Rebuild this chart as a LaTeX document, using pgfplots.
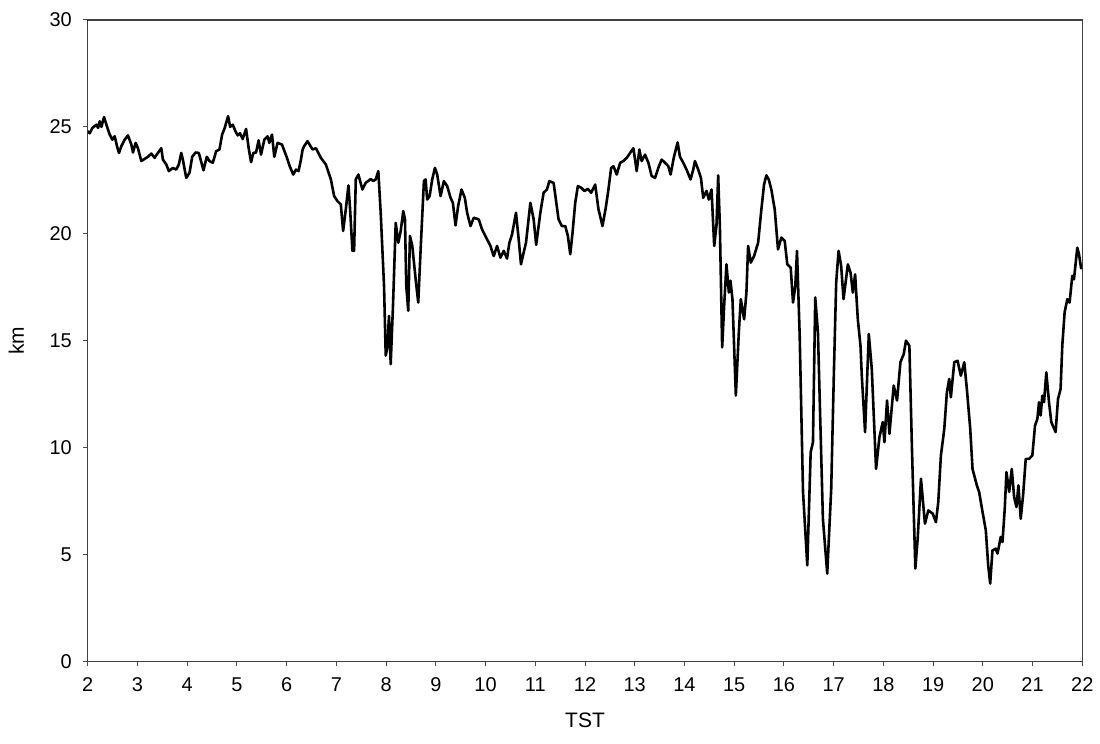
\documentclass[border=0pt]{standalone}
\usepackage{fontspec}
\setmainfont{Liberation Sans}
\usepackage{pgfplots}
\pgfplotsset{compat=1.18}
\begin{document}
\begin{tikzpicture}
\begin{axis}[
  at={(0,0)}, anchor=south west,
  scale only axis,
  width=498.5pt, height=321.5pt,
  xmin=2, xmax=22, ymin=0, ymax=30,
  xtick={2,3,...,22}, ytick={0,5,...,30},
  xtick pos=bottom, ytick pos=left,
  tick align=outside, major tick length=2.5pt,
  tick style={black!70, line width=0.5pt},
  axis line style={black!75, line width=0.6pt},
  /pgf/number format/assume math mode=true,
  tick label style={font=\fontsize{10}{12}\selectfont},
  label style={font=\fontsize{10.5}{12}\selectfont},
  xlabel={TST}, ylabel={km},
  xlabel style={yshift=-4pt},
  ylabel style={yshift=6pt},
  xticklabel style={yshift=-2pt},
  yticklabel style={xshift=-2pt},
]
\addplot[black, line width=1.3pt, line join=round] coordinates {
(2.000,24.8)(2.040,24.7)(2.094,24.95)(2.175,25.1)(2.207,24.95)(2.241,25.26)(2.275,25.0)(2.327,25.46)(2.375,25.1)(2.441,24.64)(2.495,24.4)(2.542,24.56)(2.588,24.09)(2.628,23.78)(2.676,24.1)(2.742,24.4)(2.808,24.6)(2.877,24.17)(2.909,23.8)(2.963,24.25)(3.009,24.0)(3.077,23.4)(3.143,23.5)(3.210,23.6)(3.278,23.75)(3.344,23.55)(3.410,23.78)(3.478,24.0)(3.511,23.47)(3.579,23.24)(3.631,22.93)(3.711,23.08)(3.779,23.0)(3.831,23.24)(3.880,23.78)(3.912,23.47)(3.980,22.61)(4.046,22.85)(4.100,23.6)(4.167,23.8)(4.233,23.78)(4.327,22.97)(4.393,23.6)(4.447,23.4)(4.514,23.32)(4.582,23.86)(4.648,23.94)(4.702,24.64)(4.754,24.95)(4.822,25.5)(4.863,25.0)(4.915,25.1)(4.969,24.8)(5.015,24.6)(5.063,24.7)(5.115,24.43)(5.184,24.9)(5.236,24.0)(5.284,23.35)(5.330,23.78)(5.384,23.8)(5.436,24.37)(5.484,23.7)(5.551,24.4)(5.617,24.56)(5.651,24.25)(5.705,24.64)(5.751,23.6)(5.817,24.25)(5.906,24.17)(5.998,23.6)(6.066,23.13)(6.132,22.77)(6.187,23.0)(6.239,22.93)(6.287,23.47)(6.321,23.94)(6.353,24.1)(6.419,24.33)(6.520,23.94)(6.588,24.0)(6.688,23.55)(6.788,23.24)(6.889,22.54)(6.955,21.76)(7.021,21.53)(7.089,21.37)(7.135,20.13)(7.189,21.14)(7.242,22.26)(7.276,21.14)(7.322,19.2)(7.356,19.2)(7.390,22.54)(7.442,22.77)(7.523,22.07)(7.589,22.38)(7.691,22.56)(7.737,22.46)(7.791,22.54)(7.843,22.93)(7.891,20.98)(7.958,17.56)(7.992,14.3)(8.024,14.68)(8.058,16.16)(8.092,13.9)(8.138,16.63)(8.193,20.51)(8.245,19.58)(8.293,20.13)(8.345,21.06)(8.379,20.67)(8.405,17.56)(8.445,16.4)(8.479,19.9)(8.526,19.43)(8.594,17.87)(8.646,16.78)(8.694,19.27)(8.760,22.46)(8.794,22.54)(8.826,21.6)(8.875,21.76)(8.927,22.54)(8.981,23.08)(9.027,22.77)(9.095,21.76)(9.161,22.46)(9.228,22.23)(9.296,21.68)(9.342,21.45)(9.396,20.39)(9.448,21.29)(9.516,22.07)(9.583,21.68)(9.629,20.98)(9.697,20.36)(9.763,20.75)(9.863,20.67)(9.930,20.2)(10.030,19.74)(10.098,19.43)(10.164,18.96)(10.231,19.43)(10.299,18.88)(10.365,19.2)(10.431,18.84)(10.479,19.58)(10.532,19.97)(10.612,20.98)(10.666,19.74)(10.712,18.57)(10.766,19.12)(10.813,19.58)(10.901,21.45)(10.967,20.67)(11.018,19.48)(11.101,20.98)(11.167,21.92)(11.234,22.07)(11.282,22.46)(11.368,22.38)(11.414,21.6)(11.468,20.67)(11.535,20.36)(11.603,20.36)(11.655,19.9)(11.703,19.04)(11.749,20.05)(11.803,21.45)(11.856,22.23)(11.924,22.15)(11.990,22.0)(12.056,22.1)(12.124,21.92)(12.204,22.3)(12.271,21.14)(12.351,20.36)(12.417,21.21)(12.471,22.07)(12.525,23.08)(12.572,23.16)(12.638,22.77)(12.706,23.32)(12.772,23.4)(12.839,23.55)(12.907,23.78)(12.973,24.0)(13.039,22.93)(13.093,23.94)(13.139,23.4)(13.207,23.7)(13.274,23.32)(13.340,22.7)(13.408,22.61)(13.474,23.08)(13.541,23.47)(13.609,23.32)(13.675,23.16)(13.721,22.77)(13.789,23.6)(13.862,24.27)(13.909,23.6)(13.976,23.32)(14.042,23.0)(14.122,22.54)(14.176,23.0)(14.210,23.4)(14.277,23.0)(14.331,22.61)(14.377,21.68)(14.443,22.0)(14.490,21.6)(14.544,22.07)(14.598,19.43)(14.644,20.4)(14.678,22.73)(14.712,20.36)(14.758,14.68)(14.798,16.63)(14.844,18.57)(14.893,17.25)(14.925,17.8)(14.965,16.94)(15.033,12.43)(15.093,15.39)(15.133,16.94)(15.200,16.0)(15.246,17.25)(15.280,19.43)(15.334,18.65)(15.400,18.96)(15.481,19.58)(15.547,21.14)(15.600,22.3)(15.647,22.73)(15.695,22.54)(15.747,22.07)(15.815,21.14)(15.881,19.27)(15.948,19.82)(16.016,19.66)(16.068,18.57)(16.136,18.42)(16.183,16.78)(16.229,17.56)(16.263,19.2)(16.317,15.24)(16.384,7.92)(16.470,4.49)(16.538,9.78)(16.584,10.25)(16.630,17.02)(16.684,15.39)(16.784,6.67)(16.871,4.11)(16.951,8.07)(17.005,13.52)(17.051,17.71)(17.099,19.2)(17.151,18.5)(17.199,16.94)(17.286,18.57)(17.340,18.18)(17.386,17.25)(17.432,18.1)(17.486,16.0)(17.540,14.76)(17.566,13.36)(17.632,10.72)(17.707,15.31)(17.767,13.67)(17.853,9.0)(17.921,10.49)(17.987,11.19)(18.021,10.25)(18.074,12.2)(18.122,10.64)(18.208,12.9)(18.275,12.2)(18.343,13.99)(18.409,14.37)(18.455,15.0)(18.523,14.76)(18.575,9.94)(18.643,4.34)(18.690,5.74)(18.756,8.54)(18.836,6.44)(18.904,7.06)(18.991,6.91)(19.057,6.51)(19.104,7.45)(19.157,9.63)(19.225,10.87)(19.277,12.58)(19.325,13.21)(19.357,12.35)(19.426,13.99)(19.492,14.06)(19.558,13.36)(19.627,13.99)(19.679,12.74)(19.747,10.87)(19.793,9.0)(19.880,8.23)(19.926,7.92)(19.994,6.99)(20.060,6.13)(20.108,4.49)(20.148,3.64)(20.194,5.19)(20.261,5.27)(20.295,5.04)(20.361,5.82)(20.395,5.58)(20.441,7.14)(20.475,8.85)(20.530,7.92)(20.582,9.0)(20.630,7.68)(20.676,7.22)(20.716,8.23)(20.762,6.67)(20.810,7.77)(20.863,9.47)(20.930,9.47)(20.996,9.63)(21.050,11.03)(21.097,11.34)(21.130,12.12)(21.163,11.5)(21.197,12.43)(21.231,12.12)(21.277,13.52)(21.331,12.12)(21.377,11.19)(21.464,10.72)(21.512,12.27)(21.564,12.74)(21.598,14.76)(21.645,16.32)(21.699,16.94)(21.745,16.78)(21.799,18.03)(21.833,17.87)(21.900,19.35)(21.934,19.04)(21.980,18.34)
};
\end{axis}
\useasboundingbox (-44pt,-41pt) rectangle (506pt,331.5pt);
\end{tikzpicture}
\end{document}
